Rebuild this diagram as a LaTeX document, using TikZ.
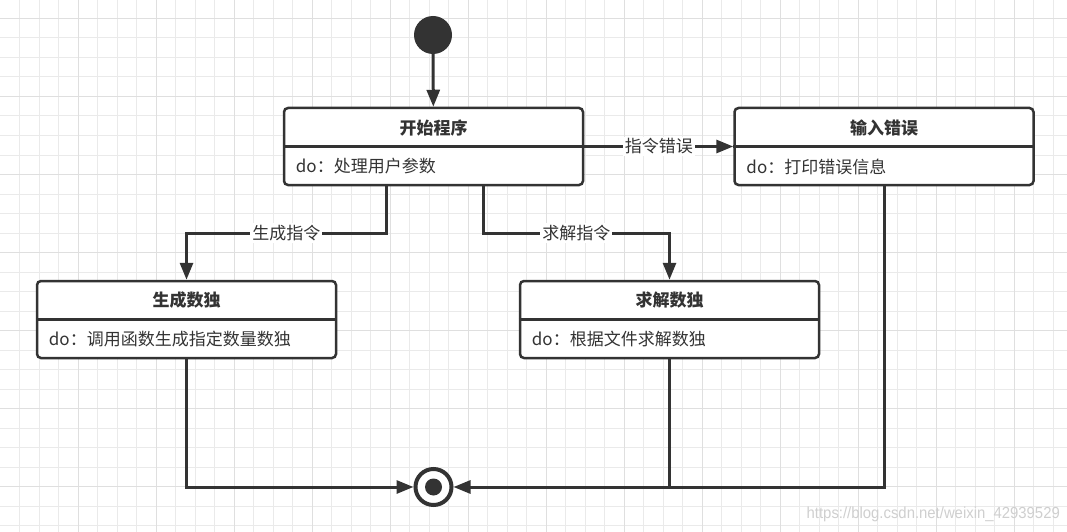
\documentclass[tikz,border=0pt]{standalone}
\usepackage{fontspec}
\newfontfamily\cjk{Noto Sans CJK SC}
\newfontfamily\wmfont{Liberation Sans}
\usetikzlibrary{arrows.meta,calc}
\definecolor{ink}{HTML}{333333}
\definecolor{gridc}{HTML}{EAEAEA}
\definecolor{gridm}{HTML}{DFDFDF}
\definecolor{wm}{HTML}{CFCFCF}
\tikzset{
  statebox/.style={draw=ink, line width=2.5pt, rounded corners=4pt, fill=white,
    minimum width=299pt, minimum height=77pt, inner sep=0pt},
  divider/.style={draw=ink, line width=2.5pt},
  titletext/.style={font=\cjk\bfseries\fontsize{17pt}{20pt}\selectfont, text=ink, inner sep=0pt},
  bodytext/.style={font=\cjk\fontsize{17pt}{20pt}\selectfont, text=ink, inner sep=0pt, anchor=west},
  lbl/.style={font=\cjk\fontsize{17pt}{20pt}\selectfont, text=ink, fill=white, inner sep=2pt},
  conn/.style={draw=ink, line width=3pt, -{Triangle[length=17pt,width=13pt]}},
  plainline/.style={draw=ink, line width=3pt},
  gridline/.style={draw=gridc, line width=1pt},
  gridmajor/.style={draw=gridm, line width=1pt},
}
\begin{document}
\begin{tikzpicture}[x=1pt,y=-1pt]
\fill[white] (0,0) rectangle (1067,532);
\useasboundingbox (0,0) rectangle (1067,532);
% grid
\foreach \i in {1,...,54} \draw[gridline] ({\i*19.5},0) -- ({\i*19.5},532);
\foreach \k in {0,...,26} \draw[gridline] (0,{18.5+\k*19.5}) -- (1067,{18.5+\k*19.5});
\foreach \i in {1,...,13} \draw[gridmajor] ({\i*78},0) -- ({\i*78},532);
\foreach \k in {0,...,6} \draw[gridmajor] (0,{18.5+78*\k}) -- (1067,{18.5+78*\k});

% initial state
\node[circle, fill=ink, minimum size=38pt, inner sep=0pt] (init) at (433,35) {};

% state boxes
\node[statebox] (start) at (433.5,146.5) {};
\draw[divider] (start.west) -- (start.east);
\node[titletext] (startT) at ($(start.center)+(0,-19)$) {开始程序};
\node[bodytext] (startB) at ($(start.west)+(13,20)$) {do：处理用户参数};

\node[statebox] (err) at (884,146.5) {};
\draw[divider] (err.west) -- (err.east);
\node[titletext] (errT) at ($(err.center)+(0,-19)$) {输入错误};
\node[bodytext] (errB) at ($(err.west)+(13,20)$) {do：打印错误信息};

\node[statebox] (gen) at (186.5,319.5) {};
\draw[divider] (gen.west) -- (gen.east);
\node[titletext] (genT) at ($(gen.center)+(0,-19)$) {生成数独};
\node[bodytext] (genB) at ($(gen.west)+(13,20)$) {do：调用函数生成指定数量数独};

\node[statebox] (sol) at (669.5,319.5) {};
\draw[divider] (sol.west) -- (sol.east);
\node[titletext] (solT) at ($(sol.center)+(0,-19)$) {求解数独};
\node[bodytext] (solB) at ($(sol.west)+(13,20)$) {do：根据文件求解数独};

% final state
\node[circle, draw=ink, line width=4pt, fill=white, minimum size=36pt, inner sep=0pt] (final) at (433.5,487) {};
\node[circle, fill=ink, minimum size=17pt, inner sep=0pt] (finalDot) at (final.center) {};

% helper coordinates
\coordinate (genFrom) at ($(start.south)+(-47.5,0)$);
\coordinate (solFrom) at ($(start.south)+(49.5,0)$);
\coordinate (genBend) at (genFrom |- 0,233);
\coordinate (solBend) at (solFrom |- 0,233);

% transitions
\draw[conn] (init) -- (start);
\draw[conn] (start.east) -- node[lbl] {指令错误} (err.west);
\draw[conn] (genFrom) -- (genBend) -- node[lbl] {生成指令} (genBend -| gen.north) -- (gen.north);
\draw[conn] (solFrom) -- (solBend) -- node[lbl] {求解指令} (solBend -| sol.north) -- (sol.north);
\draw[conn] (gen.south) |- (final.west);
\draw[conn] (err.south) |- (final.east);
\draw[plainline] (sol.south) -- (sol.south |- final.east);

% watermark
\node[font=\wmfont\fontsize{16pt}{18pt}\selectfont, text=wm, anchor=east, inner sep=0pt, xscale=0.93] (mark) at (1060,514) {https://blog.csdn.net/weixin\_42939529};
\end{tikzpicture}
\end{document}
